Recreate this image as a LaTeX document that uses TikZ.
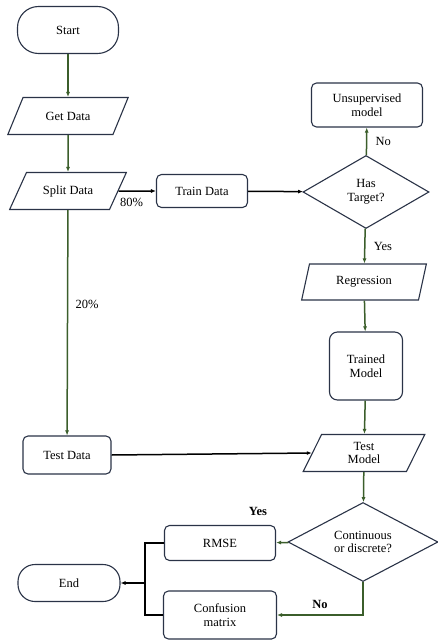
\documentclass[tikz,border=0pt]{standalone}
\usepackage{fontspec}
\setmainfont{Liberation Serif}
\newfontfamily\flowfont{Liberation Serif}
\usepackage{xcolor}
\usepackage{tikz}
\usetikzlibrary{arrows.meta,positioning,calc,shapes.geometric}
\definecolor{flowGreen}{HTML}{3B5E2B}
\definecolor{boxLine}{HTML}{2A3347}

\begin{document}
\begin{tikzpicture}[x=1pt,y=-1pt,font=\flowfont\fontsize{12.5}{13.5}\selectfont,
  terminal/.style={draw=boxLine,line width=1.1pt,inner sep=0pt},
  procbox/.style={draw=boxLine,line width=1.1pt,rounded corners=5pt,inner sep=0pt,align=center},
  iobox/.style={draw=boxLine,line width=1.1pt,trapezium,trapezium stretches=true,inner sep=0pt,align=center},
  decision/.style={draw=boxLine,line width=1.1pt,diamond,inner sep=0pt,align=center},
  greenflow/.style={draw=flowGreen,line width=1.5pt,-{Latex[length=5pt,width=4pt]}},
  blackflow/.style={draw=black,line width=1.5pt,-{Latex[length=5pt,width=4pt]}}]
\useasboundingbox (0,0) rectangle (438,642);
% nodes
\node[terminal,rounded corners=21pt,minimum width=101pt,minimum height=47pt] (start) at (68,30) {Start};
\node[iobox,trapezium left angle=48,trapezium right angle=132,minimum width=121pt,minimum height=37pt] (getdata) at (68,116) {Get Data};
\node[iobox,trapezium left angle=48,trapezium right angle=132,minimum width=117pt,minimum height=37pt] (split) at (68,191) {Split Data};
\node[procbox,minimum width=91pt,minimum height=33pt] (train) at (202,191) {Train Data};
\node[decision,minimum width=126pt,minimum height=73pt,aspect=1.7] (target) at (366,192) {Has\\Target?};
\node[procbox,minimum width=111pt,minimum height=44pt] (unsup) at (367,105) {Unsupervised\\model};
\node[iobox,trapezium left angle=70,trapezium right angle=110,minimum width=125pt,minimum height=36pt] (regr) at (364,282) {Regression};
\node[procbox,rounded corners=8pt,minimum width=73pt,minimum height=68pt] (trained) at (366,366) {Trained\\Model};
\node[iobox,trapezium left angle=72,trapezium right angle=108,minimum width=122pt,minimum height=37pt] (testmodel) at (364,453) {Test\\Model};
\node[procbox,minimum width=88pt,minimum height=38pt] (testdata) at (67,455) {Test Data};
\node[decision,minimum width=150pt,minimum height=79pt,aspect=1.9] (cont) at (363,542) {Continuous\\or discrete?};
\node[procbox,minimum width=111pt,minimum height=35pt] (rmse) at (220,543) {RMSE};
\node[procbox,minimum width=113pt,minimum height=48pt] (confusion) at (220,615) {Confusion\\matrix};
\node[terminal,rounded corners=17pt,minimum width=102pt,minimum height=37pt] (end) at (69,583) {End};
\coordinate (join) at (145,583);
% connectors
\draw[greenflow] (start) -- (getdata);
\draw[greenflow] (getdata) -- (split);
\draw[blackflow] (split.east) -- (train.west) node[pos=0.35,below=3pt] {80\%};
\draw[blackflow] (train) -- (target);
\draw[greenflow] (target) -- (unsup) node[midway,right=5pt] {No};
\draw[greenflow] (target) -- (regr) node[midway,right=5pt] {Yes};
\draw[greenflow] (regr) -- (trained);
\draw[greenflow] (trained) -- (testmodel);
\draw[greenflow] (split) -- (testdata) node[pos=0.42,right=4pt] {20\%};
\draw[blackflow] (testdata.east) -- (testmodel.west);
\draw[greenflow] (testmodel) -- (cont);
\draw[greenflow] (cont) -- (rmse) node[pos=1,above left=23pt and 5pt] {\textbf{Yes}};
\draw[greenflow] (cont.south) |- (confusion.east) node[pos=0.75,above=2pt] {\textbf{No}};
\draw[line width=1.8pt] (rmse.west) -| (join) |- (confusion.west);
\draw[blackflow,line width=1.8pt] (join) -- (end.east);
\end{tikzpicture}
\end{document}
